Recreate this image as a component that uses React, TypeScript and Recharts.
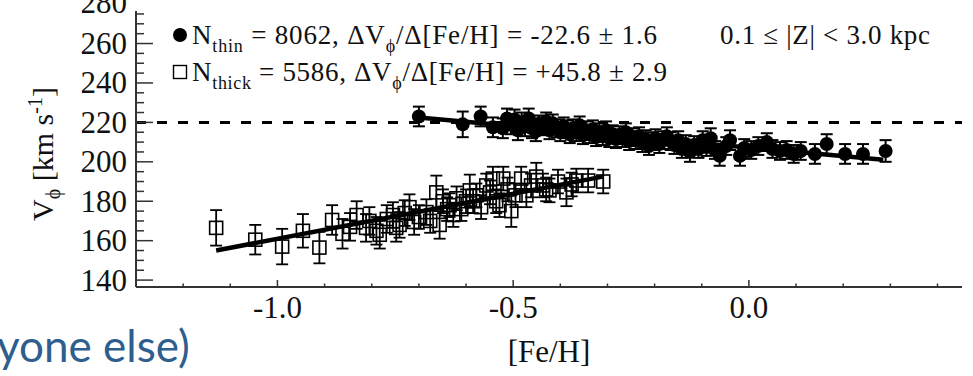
import React from 'react';
import { ScatterChart, Scatter, XAxis, YAxis, ErrorBar, ReferenceLine } from 'recharts';

// ---- thin disk (filled circles) ----
const thinFeh = [
  -0.700, -0.607, -0.569, -0.543, -0.522, -0.513, -0.505, -0.497, -0.490, -0.482,
  -0.475, -0.467, -0.460, -0.452, -0.445, -0.437, -0.430, -0.423, -0.416, -0.408,
  -0.400, -0.393, -0.387, -0.380, -0.373, -0.366, -0.359, -0.352, -0.345, -0.338,
  -0.331, -0.324, -0.317, -0.310, -0.303, -0.296, -0.289, -0.282, -0.275, -0.268,
  -0.261, -0.254, -0.247, -0.240, -0.233, -0.226, -0.219, -0.212, -0.205, -0.198,
  -0.190, -0.182, -0.174, -0.166, -0.158, -0.150, -0.142, -0.134, -0.125, -0.116,
  -0.107, -0.098, -0.090, -0.081, -0.072, -0.062, -0.048, -0.040, -0.019, -0.010,
  0.005, 0.020, 0.038, 0.050, 0.066, 0.080, 0.095, 0.110, 0.140, 0.165,
  0.204, 0.242, 0.290,
];
const thinV = [
  223, 219, 223, 217.5, 217, 222, 219, 221.5, 216, 220,
  218, 222, 217, 215.5, 219, 218, 220.5, 216, 219.5, 217,
  215, 218, 216.5, 214, 217, 215, 218.5, 213.5, 216, 214,
  216.5, 212.5, 215, 213, 216, 212, 214, 211.5, 213.5, 212,
  215, 210.5, 212.5, 211, 213, 209.5, 211.5, 208, 210.5, 212,
  209, 211, 213, 210.5, 208.5, 211, 206.5, 209, 205, 208.5,
  206.5, 211, 207.5, 212, 206, 203, 208, 211, 203, 207,
  206, 208, 210, 206.5, 205.5, 206, 204, 205.5, 204, 209,
  204, 204, 205.5,
];
const thinErr = [
  5, 6.5, 5, 5, 5, 5, 5, 5, 5, 5,
  5, 5, 5, 5, 4.5, 4.5, 4.5, 4.5, 4.5, 4.5,
  4.5, 4.5, 4.5, 4.5, 4.5, 4.5, 4.5, 4.5, 4.5, 4.5,
  4.5, 4.5, 4.5, 4.5, 4.5, 4.5, 4.5, 4.5, 4.5, 4.5,
  4.5, 4.5, 4.5, 4.5, 4.5, 4.5, 4.5, 4.5, 4.5, 4.5,
  4.5, 4.5, 4.5, 4.5, 4.5, 4.5, 4.5, 4.5, 5, 4.5,
  4.5, 4.5, 4.5, 5, 4.5, 5, 4.5, 5, 5, 4.5,
  4.5, 4.5, 4.5, 4.5, 4.5, 4.5, 4.5, 4.5, 5, 5,
  5, 5, 5.5,
];

// ---- thick disk (open squares) ----
const thickFeh = [
  -1.130, -1.047, -0.990, -0.946, -0.911, -0.884, -0.862, -0.846, -0.832, -0.812,
  -0.805, -0.790, -0.783, -0.768, -0.755, -0.748, -0.741, -0.730, -0.720, -0.710,
  -0.700, -0.684, -0.676, -0.663, -0.656, -0.649, -0.640, -0.635, -0.627, -0.620,
  -0.610, -0.600, -0.592, -0.585, -0.578, -0.568, -0.557, -0.549, -0.543, -0.536,
  -0.529, -0.521, -0.512, -0.504, -0.495, -0.483, -0.472, -0.462, -0.451, -0.437,
  -0.430, -0.423, -0.405, -0.387, -0.376, -0.366, -0.341, -0.309,
];
const thickV = [
  166.5, 160.5, 157, 165, 156.5, 170.5, 163.5, 167, 173, 166.5,
  170, 165, 163, 171, 173, 166.5, 168, 174, 177, 169.5,
  172, 174.5, 170, 184.5, 168, 180, 176, 178, 173, 181.5,
  176, 180, 185.5, 180, 183, 177, 188, 184.5, 191.5, 180,
  178, 191.5, 186, 175, 183, 191.5, 183, 188, 192.5, 188,
  186, 185.5, 190, 184.5, 188.5, 190.5, 190.5, 190,
];
const thickErr = [
  9, 7.5, 9, 8.5, 8, 7.5, 7.5, 7, 7, 7,
  7, 7, 7, 7, 6.5, 7, 6.5, 6.5, 6.5, 6.5,
  6, 6.5, 6, 8.5, 7, 6, 6, 6, 6, 6,
  6, 6, 8, 6, 6, 6, 6, 6, 6, 6,
  6, 6, 6, 8, 6, 6, 6, 6, 7, 6,
  6, 6, 6, 7, 6, 6, 6, 6,
];

// ---- linear fits (end points) ----
const thinFitFeh = [-0.70, 0.285];
const thinFitV = [222.5, 201];
const thickFitFeh = [-1.13, -0.31];
const thickFitV = [155, 192.5];

const refV = 220;

// ---- axes ----
const xDomain = [-1.3, 0.452];
const yDomain = [136.5, 276.5];
const xTicks = [-1.3, -1.2, -1.1, -1.0, -0.9, -0.8, -0.7, -0.6, -0.5, -0.4, -0.3, -0.2, -0.1, 0.0, 0.1, 0.2, 0.3, 0.4];
const xMajor = [-1.0, -0.5, 0.0];
const xMajorLabels = ['-1.0', '-0.5', '0.0'];
const yTicks = [140, 145, 150, 155, 160, 165, 170, 175, 180, 185, 190, 195, 200, 205, 210, 215, 220, 225, 230, 235, 240, 245, 250, 255, 260, 265, 270, 275];
const yMajor = [140, 160, 180, 200, 220, 240, 260];

const build = (f: number[], v: number[], e?: number[]) =>
  f.map((x, i) => ({ feh: x, v: v[i], err: e ? e[i] : 0 }));

const thinData = build(thinFeh, thinV, thinErr);
const thickData = build(thickFeh, thickV, thickErr);
const thinFit = build(thinFitFeh, thinFitV);
const thickFit = build(thickFitFeh, thickFitV);

const SERIF = '"Liberation Serif", "Times New Roman", serif';
const AX = '#333';
const TXT = '#111';

const findMajor = (arr: number[], v: number) => arr.findIndex((m) => Math.abs(m - v) < 1e-6);

const XTickBottom = (props: any) => {
  const { x, y, payload } = props;
  const idx = findMajor(xMajor, payload.value);
  const len = idx >= 0 ? 7 : 3.5;
  return (
    <g>
      <line x1={x} y1={y} x2={x} y2={y - len} stroke={AX} strokeWidth={1.5} />
      {idx >= 0 && (
        <text x={x} y={y + 31} textAnchor="middle" fontFamily={SERIF} fontSize={31} fill={TXT}>
          {xMajorLabels[idx]}
        </text>
      )}
    </g>
  );
};

const XTickTop = (props: any) => {
  const { x, y, payload } = props;
  const idx = findMajor(xMajor, payload.value);
  const len = idx >= 0 ? 7 : 3.5;
  return <line x1={x} y1={y} x2={x} y2={y + len} stroke={AX} strokeWidth={1.5} />;
};

const YTickLeft = (props: any) => {
  const { x, y, payload } = props;
  const major = yMajor.indexOf(payload.value) >= 0;
  const len = major ? 17 : 8;
  return (
    <g>
      <line x1={x} y1={y} x2={x + len} y2={y} stroke={AX} strokeWidth={1.5} />
      {major && (
        <text x={x - 9} y={y + 10.5} textAnchor="end" fontFamily={SERIF} fontSize={31} fill={TXT}>
          {payload.value}
        </text>
      )}
    </g>
  );
};

const YTickRight = (props: any) => {
  const { x, y, payload } = props;
  const major = yMajor.indexOf(payload.value) >= 0;
  const len = major ? 17 : 8;
  return <line x1={x} y1={y} x2={x - len} y2={y} stroke={AX} strokeWidth={1.5} />;
};

const Dot = (props: any) => {
  const { cx, cy } = props;
  if (cx == null || cy == null) return <g />;
  return <circle cx={cx} cy={cy} r={7} fill="#000" />;
};

const Square = (props: any) => {
  const { cx, cy } = props;
  if (cx == null || cy == null) return <g />;
  return <rect x={cx - 6.5} y={cy - 6.5} width={13} height={13} fill="none" stroke="#000" strokeWidth={1.6} />;
};

const NoShape = () => <g />;

export default function App() {
  return (
    <div style={{ position: 'absolute', left: 0, top: 0, width: 973, height: 376, background: '#fff', overflow: 'hidden' }}>
      <ScatterChart width={973} height={376} margin={{ top: 11, right: 11, bottom: 0, left: 0 }}>
        <XAxis
          xAxisId="b"
          type="number"
          dataKey="feh"
          domain={xDomain}
          ticks={xTicks}
          interval={0}
          allowDataOverflow
          orientation="bottom"
          height={89}
          tickSize={0}
          tickMargin={0}
          tickLine={false}
          tick={<XTickBottom />}
          axisLine={{ stroke: AX, strokeWidth: 2 }}
        />
        <XAxis
          xAxisId="t"
          type="number"
          dataKey="feh"
          domain={xDomain}
          ticks={xTicks}
          interval={0}
          allowDataOverflow
          orientation="top"
          height={0}
          tickSize={0}
          tickMargin={0}
          tickLine={false}
          tick={<XTickTop />}
          axisLine={{ stroke: AX, strokeWidth: 2 }}
        />
        <YAxis
          yAxisId="l"
          type="number"
          dataKey="v"
          domain={yDomain}
          ticks={yTicks}
          interval={0}
          allowDataOverflow
          orientation="left"
          width={136}
          tickSize={0}
          tickMargin={0}
          tickLine={false}
          tick={<YTickLeft />}
          axisLine={{ stroke: AX, strokeWidth: 2 }}
        />
        <YAxis
          yAxisId="r"
          type="number"
          dataKey="v"
          domain={yDomain}
          ticks={yTicks}
          interval={0}
          allowDataOverflow
          orientation="right"
          width={0}
          tickSize={0}
          tickMargin={0}
          tickLine={false}
          tick={<YTickRight />}
          axisLine={{ stroke: AX, strokeWidth: 2 }}
        />
        <ReferenceLine xAxisId="b" yAxisId="l" y={refV} stroke="#000" strokeWidth={3} strokeDasharray="10 11" />
        <Scatter xAxisId="b" yAxisId="l" data={thickData} shape={<Square />} isAnimationActive={false}>
          <ErrorBar dataKey="err" direction="y" width={6} stroke="#000" strokeWidth={1.8} />
        </Scatter>
        <Scatter xAxisId="b" yAxisId="l" data={thinData} shape={<Dot />} isAnimationActive={false}>
          <ErrorBar dataKey="err" direction="y" width={6} stroke="#000" strokeWidth={2} />
        </Scatter>
        <Scatter
          xAxisId="b"
          yAxisId="l"
          data={thickFit}
          shape={<NoShape />}
          line={{ stroke: '#000', strokeWidth: 4.5 }}
          isAnimationActive={false}
        />
        <Scatter
          xAxisId="b"
          yAxisId="l"
          data={thinFit}
          shape={<NoShape />}
          line={{ stroke: '#000', strokeWidth: 4.5 }}
          isAnimationActive={false}
        />
      </ScatterChart>
      <svg
        width={973}
        height={376}
        style={{ position: 'absolute', left: 0, top: 0, pointerEvents: 'none' }}
        fontFamily={SERIF}
      >
        <text x={127} y={13} textAnchor="end" fontSize={31} fill={TXT}>280</text>
        <circle cx={180} cy={35} r={7} fill="#000" />
        <text x={192} y={44} fontSize={27} fill={TXT} textLength={465} lengthAdjust="spacing">
          N<tspan fontSize={18} dy={8}>thin</tspan>
          <tspan dy={-8}>{'  = 8062, \u0394V'}</tspan>
          <tspan fontSize={18} dy={8}>{'\u03d5'}</tspan>
          <tspan dy={-8}>{'/\u0394[Fe/H] = -22.6 \u00b1 1.6'}</tspan>
        </text>
        <rect x={173.5} y={65.5} width={13} height={13} fill="none" stroke="#000" strokeWidth={1.4} />
        <text x={192} y={81} fontSize={27} fill={TXT} textLength={475} lengthAdjust="spacing">
          N<tspan fontSize={18} dy={8}>thick</tspan>
          <tspan dy={-8}>{' = 5586, \u0394V'}</tspan>
          <tspan fontSize={18} dy={8}>{'\u03d5'}</tspan>
          <tspan dy={-8}>{'/\u0394[Fe/H] = +45.8 \u00b1 2.9'}</tspan>
        </text>
        <text x={720} y={44} fontSize={27} fill={TXT} textLength={210} lengthAdjust="spacing">
          {'0.1 \u2264 |Z| < 3.0 kpc'}
        </text>
        <text transform="translate(53,154) rotate(-90)" textAnchor="middle" fontSize={30} fill={TXT}>
          V<tspan fontSize={20} dy={7}>{'\u03d5'}</tspan>
          <tspan dy={-7}>{' [km s'}</tspan>
          <tspan fontSize={20} dy={-11}>-1</tspan>
          <tspan dy={11}>]</tspan>
        </text>
        <text x={549} y={362} textAnchor="middle" fontSize={31} fill={TXT}>[Fe/H]</text>
        <text x={-3} y={362} fontSize={44} fill="#2e5e8e" fontFamily="Lato, 'Open Sans', sans-serif">
          yone else)
        </text>
      </svg>
    </div>
  );
}
